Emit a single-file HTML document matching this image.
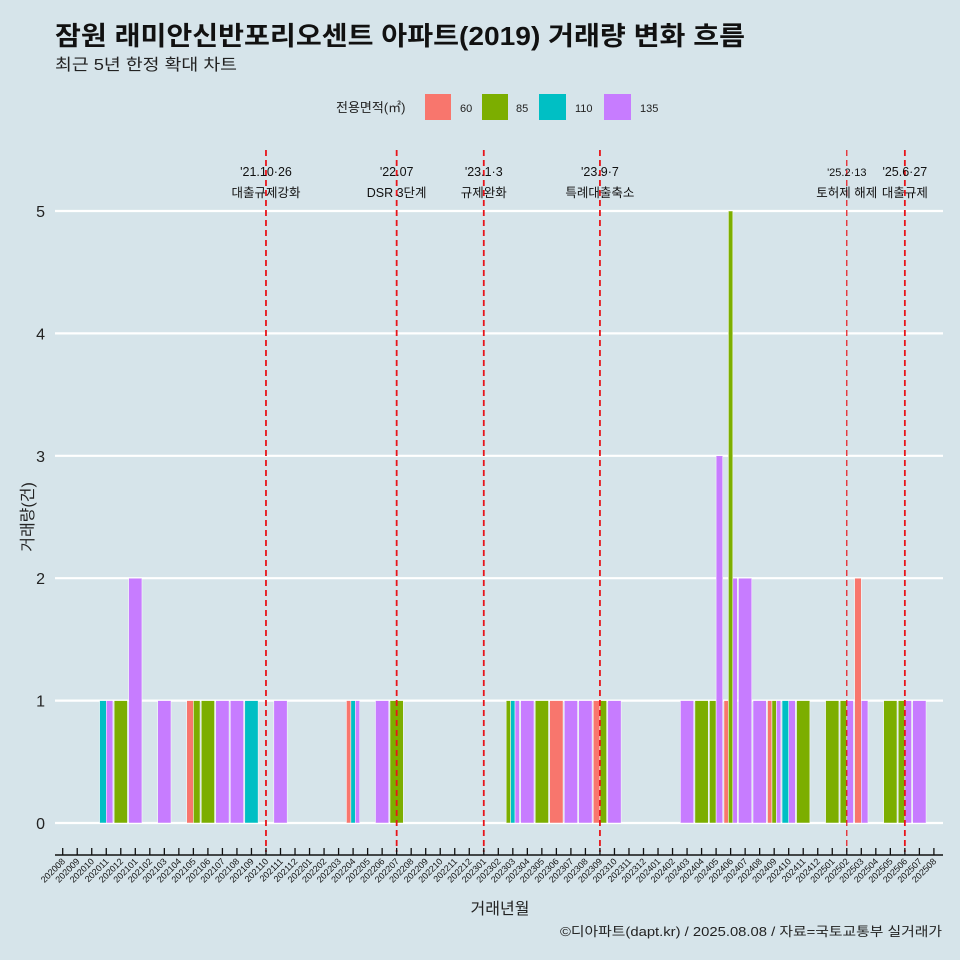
<!DOCTYPE html>
<html><head><meta charset="utf-8"><style>
body{margin:0;background:#D6E4EA;}
svg{display:block;font-family:"Liberation Sans","Noto Sans CJK KR",sans-serif;}
</style></head><body>
<svg id="c" width="960" height="960" xmlns="http://www.w3.org/2000/svg">
<rect width="960" height="960" fill="#D6E4EA"/>
<text x="55" y="45" font-size="26" font-weight="bold" fill="#111" textLength="690" lengthAdjust="spacingAndGlyphs">잠원 래미안신반포리오센트 아파트(2019) 거래량 변화 흐름</text>
<text x="55" y="70" font-size="16" fill="#222" textLength="182" lengthAdjust="spacingAndGlyphs">최근 5년 한정 확대 차트</text>
<g>
<text x="336" y="112" font-size="13" fill="#222">전용면적(㎡)</text>
<rect x="425" y="94" width="26" height="26" fill="#F8766D"/>
<text x="460" y="112" font-size="11" fill="#222">60</text>
<rect x="482" y="94" width="26" height="26" fill="#7CAE00"/>
<text x="516" y="112" font-size="11" fill="#222">85</text>
<rect x="539" y="94" width="27" height="26" fill="#00BFC4"/>
<text x="575" y="112" font-size="11" fill="#222">110</text>
<rect x="604" y="94" width="27" height="26" fill="#C77CFF"/>
<text x="640" y="112" font-size="11" fill="#222">135</text>
</g>
<g id="plot"></g>
<text x="500" y="914" font-size="16" text-anchor="middle" fill="#222">거래년월</text>
<text x="33" y="517" font-size="16" text-anchor="middle" fill="#222" transform="rotate(-90 33 517)">거래량(건)</text>
<text x="560" y="936" font-size="13" fill="#222" textLength="382" lengthAdjust="spacingAndGlyphs">©디아파트(dapt.kr) / 2025.08.08 / 자료=국토교통부 실거래가</text>
</svg>
<script>
const months = [];
for (let y = 2020, m = 8; y * 100 + m <= 202508; m++) { if (m > 12) { m = 1; y++; } months.push(String(y * 100 + m)); }
const seriesNames = ["60", "85", "110", "135"];
const seriesColors = ["#F8766D", "#7CAE00", "#00BFC4", "#C77CFF"];
const v60 = {"202105":1,"202204":1,"202306":1,"202309":1,"202406":1,"202409":1,"202503":2};
const v85 = {"202012":1,"202105":1,"202106":1,"202207":1,"202303":1,"202305":1,"202309":1,"202404":1,"202405":1,"202406":5,"202409":1,"202411":1,"202501":1,"202502":1,"202505":1,"202506":1};
const v110 = {"202011":1,"202109":1,"202204":1,"202303":1,"202410":1};
const v135 = {"202011":1,"202101":2,"202103":1,"202107":1,"202108":1,"202111":1,"202204":1,"202206":1,"202303":1,"202304":1,"202307":1,"202308":1,"202310":1,"202403":1,"202405":3,"202406":2,"202407":2,"202408":1,"202409":1,"202410":1,"202502":1,"202503":1,"202506":1,"202507":1};
const yTicks = [0, 1, 2, 3, 4, 5];
const events = [["202110","'21.10·26","대출규제강화"],["202207","'22.07","DSR 3단계"],["202301","'23.1·3","규제완화"],["202309","'23.9·7","특례대출축소"],["202502","'25.2·13","토허제 해제"],["202506","'25.6·27","대출규제"]];

const NS = "http://www.w3.org/2000/svg";
const g = document.getElementById("plot");
const x = i => 62.7 + i * 14.52;
const y = v => 823 - v * 122.4;
function el(t, a) { const e = document.createElementNS(NS, t); for (const k in a) e.setAttribute(k, a[k]); g.appendChild(e); return e; }
yTicks.forEach(t => {
  const l = el("line", {x1:55, x2:943, y1:y(t), y2:y(t), stroke:"#fff", "stroke-width":2.2});
  
  
  const tx = el("text", {x:45, y:y(t)+6, "font-size":16, "text-anchor":"end", fill:"#222"});
  tx.textContent = t;
  
  
});
const data = [v60, v85, v110, v135];
const bw = 13.3;
months.forEach((m, i) => {
  const present = [];
  data.forEach((s, k) => { if (s[m]) present.push(k); });
  const w = bw / (present.length || 1);
  present.forEach((k, j) => {
    const v = data[k][m];
    const r = el("rect", {x:x(i) - bw/2 + j*w, y:y(v), width:w, height:y(0)-y(v), fill:seriesColors[k], stroke:"#fff", "stroke-width":0.5});
    
    
  });
});
events.forEach(ev => {
  const i = months.indexOf(ev[0]);
  const thin = ev[0] === "202502";
  const l = el("line", {x1:x(i), x2:x(i), y1:150, y2:852, stroke:"#E8141A", "stroke-width":thin?1.2:1.8, "stroke-dasharray":"6 4"});
  
  
  const fs = thin ? 11 : 12.5;
  const t1 = el("text", {x:x(i), y:176, "font-size":fs, "text-anchor":"middle", fill:"#111"});
  t1.textContent = ev[1];
  
  
  const t2 = el("text", {x:x(i), y:197, "font-size":12.5, "text-anchor":"middle", fill:"#111"});
  t2.textContent = ev[2];
  
  
});
const ax = el("line", {x1:55, x2:943, y1:855, y2:855, stroke:"#111", "stroke-width":1.5});


months.forEach((m, i) => {
  const t = el("line", {x1:x(i), x2:x(i), y1:848, y2:855, stroke:"#111", "stroke-width":1.3});
  
  
  const lb = el("text", {x:x(i)+3, y:862, "font-size":9, "text-anchor":"end", fill:"#111", transform:`rotate(-45 ${x(i)+3} 862)`});
  lb.textContent = m;
  
  
});
</script>
</body></html>
